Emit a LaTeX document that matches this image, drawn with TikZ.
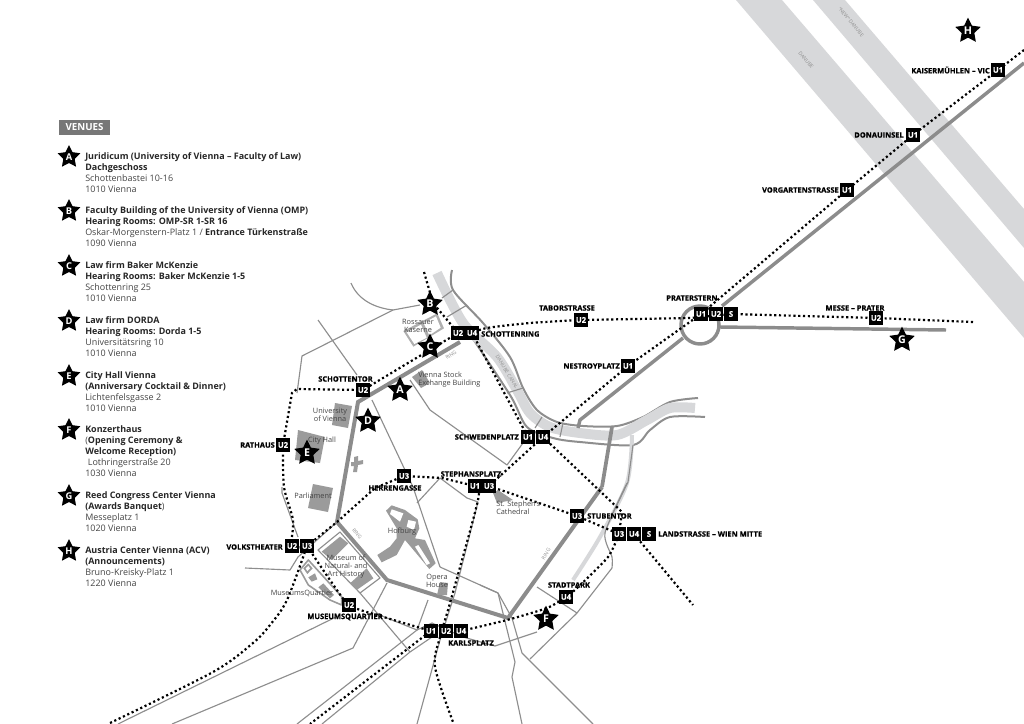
\documentclass[tikz,border=0pt]{standalone}
\usepackage{fontspec}
\setmainfont{Open Sans}
\newfontfamily\xbold{Open Sans}[BoldFeatures={FakeBold=0.6}]
\usetikzlibrary{shapes.geometric}
\pgfdeclarelayer{back}\pgfdeclarelayer{mid}
\pgfsetlayers{back,mid,main}
\definecolor{bandc}{HTML}{D7D8DA}
\definecolor{ringc}{HTML}{8C8C8C}
\definecolor{roadc}{HTML}{8E8E8E}
\definecolor{bldc}{HTML}{9B9B9B}
\definecolor{txtc}{HTML}{444444}
\definecolor{boxc}{HTML}{777777}
\tikzset{
 band/.style={fill=bandc,draw=none},
 ringroad/.style={draw=ringc,line width=3pt,line join=miter},
 road/.style={draw=roadc,line width=0.85pt,line join=round},
 canalb/.style={draw=roadc,line width=1.5pt},
 canalf/.style={draw=bandc,line width=7.5pt},
 bld/.style={fill=bldc,draw=none},
 court/.style={fill=white,draw=none},
 metro/.style={draw=black,line width=1.65pt,dash pattern=on 1.6pt off 2pt},
 ubox/.style={fill=black,text=white,minimum size=10pt,inner sep=0pt,font=\fontsize{5.8}{6}\selectfont\xbold\bfseries},
 lab/.style={text=black,inner sep=0pt,font=\fontsize{5.6}{6}\selectfont\xbold\bfseries},
 star5/.style={star,star points=5,star point ratio=2,fill=black,text=white,inner sep=0pt,minimum size=20pt,font=\fontsize{8}{9}\selectfont\bfseries},
 star5s/.style={star5,minimum size=18pt,font=\fontsize{7}{8}\selectfont\bfseries},
 place/.style={text=txtc,inner sep=0pt,align=center,font=\fontsize{5.5}{6.3}\selectfont},
 tiny/.style={text=roadc,inner sep=0pt,font=\fontsize{3.8}{4}\selectfont},
 venue/.style={anchor=north west,inner sep=0pt,align=left,text=txtc,font=\fontsize{6.72}{8.25}\selectfont},
}
\newcommand{\hd}[1]{{\bfseries\color{black!85}#1}}
\begin{document}
\begin{tikzpicture}[x=0.75pt,y=-0.75pt]
\useasboundingbox (0,0) rectangle (1024,724);
% ---- legend
\node[fill=boxc,text=white,inner sep=0pt,minimum width=38.5pt,minimum height=11.5pt,font=\fontsize{7.3}{8}\selectfont\bfseries] (venues) at (84.5,127.5) {VENUES};
\foreach \n/\l/\y in {la/A/157,lb/B/211,lc/C/266,ld/D/321,le/E/376,lf/F/430,lg/G/496,lh/H/551}
 \node[star5s] (\n) at (69,\y) {\l};
\node[venue] (v1) at (85,152) {\hd{Juridicum (University of Vienna – Faculty of Law)}\\\hd{Dachgeschoss}\\Schottenbastei 10-16\\1010 Vienna};
\node[venue] (v2) at (85,206) {\hd{Faculty Building of the University of Vienna (OMP)}\\\hd{Hearing Rooms: OMP-SR 1-SR 16}\\Oskar-Morgenstern-Platz 1 / \hd{Entrance Türkenstraße}\\1090 Vienna};
\node[venue] (v3) at (85,261) {\hd{Law firm Baker McKenzie}\\\hd{Hearing Rooms: Baker McKenzie 1-5}\\Schottenring 25\\1010 Vienna};
\node[venue] (v4) at (85,316) {\hd{Law firm DORDA}\\\hd{Hearing Rooms: Dorda 1-5}\\Universitätsring 10\\1010 Vienna};
\node[venue] (v5) at (85,371) {\hd{City Hall Vienna}\\\hd{(Anniversary Cocktail \& Dinner)}\\Lichtenfelsgasse 2\\1010 Vienna};
\node[venue] (v6) at (85,425) {\hd{Konzerthaus}\\(\hd{Opening Ceremony \&}\\\hd{Welcome Reception)}\\\hspace{2pt}Lothringerstraße 20\\1030 Vienna};
\node[venue] (v7) at (85,491) {\hd{Reed Congress Center Vienna}\\\hd{(Awards Banquet})\\Messeplatz 1\\1020 Vienna};
\node[venue] (v8) at (85,546) {\hd{Austria Center Vienna (ACV)}\\\hd{(Announcements)}\\Bruno-Kreisky-Platz 1\\1220 Vienna};
% ---- stars
\node[star5] (sa) at (400,390) {A};
\node[star5] (sb) at (430,304) {B};
\node[star5] (sc) at (430,347) {C};
\node[star5] (sd) at (368,421) {D};
\node[star5] (se) at (307,453) {E};
\node[star5] (sf) at (546,619) {F};
\node[star5] (sg) at (902,340) {G};
\node[star5] (sh) at (968,31) {H};
% ---- station boxes
\node[ubox] (ka) at (998,70) {U1};
\node[ubox] (do) at (913,135) {U1};
\node[ubox] (vo) at (847,190) {U1};
\node[ubox] (pa) at (701,314) {U1};
\node[ubox] (pb) at (716,314) {U2};
\node[ubox] (pc) at (731,314) {S};
\node[ubox] (me) at (876,318) {U2};
\node[ubox] (ta) at (581,320) {U2};
\node[ubox] (ne) at (628,366) {U1};
\node[ubox] (sra) at (458,333) {U2};
\node[ubox] (srb) at (472,333) {U4};
\node[ubox] (st) at (363,390) {U2};
\node[ubox] (ra) at (283,445) {U2};
\node[ubox] (swa) at (528,437) {U1};
\node[ubox] (swb) at (543,437) {U4};
\node[ubox] (spa) at (475,486) {U1};
\node[ubox] (spb) at (489,486) {U3};
\node[ubox] (he) at (404,476) {U3};
\node[ubox] (su) at (577,516) {U3};
\node[ubox] (laa) at (619,534) {U3};
\node[ubox] (lab) at (634,534) {U4};
\node[ubox] (lac) at (649,534) {S};
\node[ubox] (spk) at (566,597) {U4};
\node[ubox] (vta) at (292,546) {U2};
\node[ubox] (vtb) at (307,546) {U3};
\node[ubox] (mq) at (349,605) {U2};
\node[ubox] (kaa) at (431,631) {U1};
\node[ubox] (kab) at (446,631) {U2};
\node[ubox] (kac) at (461,631) {U4};
% ---- station labels
\node[lab,anchor=east] (lka) at (990,70) {KAISERMÜHLEN – VIC};
\node[lab,anchor=east] (ldo) at (904,135) {DONAUINSEL};
\node[lab,anchor=east] (lvo) at (839,190) {VORGARTENSTRASSE};
\node[lab,anchor=west] (lpr) at (666,298) {PRATERSTERN};
\node[lab] (lme) at (855,308) {MESSE – PRATER};
\node[lab] (lta) at (567,308) {TABORSTRASSE};
\node[lab,anchor=east] (lne) at (620,366) {NESTROYPLATZ};
\node[lab,anchor=west] (lsr) at (481,334) {SCHOTTENRING};
\node[lab] (lst) at (345.5,379) {SCHOTTENTOR};
\node[lab,anchor=east] (lra) at (275,445) {RATHAUS};
\node[lab,anchor=east] (lsw) at (519,437) {SCHWEDENPLATZ};
\node[lab] (lsp) at (471,474) {STEPHANSPLATZ};
\node[lab] (lhe) at (395,488) {HERRENGASSE};
\node[lab,anchor=west] (lsu) at (587,516) {STUBENTOR};
\node[lab,anchor=west] (lla) at (658,534) {LANDSTRASSE – WIEN MITTE};
\node[lab] (lsk) at (569,585) {STADTPARK};
\node[lab,anchor=east] (lvt) at (283,547) {VOLKSTHEATER};
\node[lab] (lmq) at (345,617) {MUSEUMSQUARTIER};
\node[lab] (lkp) at (471,643) {KARLSPLATZ};
% ---- place names
\node[place] (n1) at (418,326) {Rossauer\\Kaserne};
\node[place,align=left,anchor=west] (n2) at (418,379.5) {Vienna Stock\\Exchange Building};
\node[place] (n3) at (330,415) {University\\of Vienna};
\node[place] (n4) at (322,441) {City Hall};
\node[place] (n5) at (313,496) {Parliament};
\node[place] (n6) at (402,532) {Hofburg};
\node[place] (n7) at (346,566.5) {Museum of\\Natural- and\\Art History};
\node[place] (n8) at (302,593) {MuseumsQuartier};
\node[place] (n9) at (437,581) {Opera\\House};
\node[place,align=left,anchor=west] (n10) at (496,507.5) {St. Stephen's\\Cathedral};
\node[tiny,rotate=35] (r1) at (451,355) {RING};
\node[tiny,rotate=-52] (r2) at (357,534) {RING};
\node[tiny,rotate=58] (r3) at (546,554) {RING};
\node[tiny,rotate=-58] (c1) at (507,372) {DANUBE CANAL};
\node[tiny,rotate=-50] (d1) at (806,60) {DANUBE};
\node[tiny,rotate=-50] (d2) at (851,22) {"NEW" DANUBE};
% ---- metro lines
\coordinate (e1) at (1024,50);
\coordinate (e2) at (973,322);
\coordinate (e3) at (110,723);
\coordinate (e4) at (693,605);
\coordinate (e5) at (424,272);
\coordinate (e6) at (453,722);
\coordinate (e7) at (310,724);
\begin{pgfonlayer}{mid}
\draw[metro] (e1)--(ka.center)--(do.center)--(vo.center)--(pa.center)--(ne.center)--(swb.center)--(spb.center);
\draw[metro] plot[smooth,tension=0.5] coordinates {(spa.center) (478,500) (450,603) (440,637) (435,667) (e6)};
\draw[metro] (e2)--(me.center)--(pc.center)--(690,318)--(ta.center);
\draw[metro] plot[smooth,tension=0.5] coordinates {(ta.center) (530,323) (487,328) (srb.center)};
\draw[metro] (sra.center)--(st.center)--(297,389)--(292,393)--(283,445)--(ra.center);
\draw[metro] plot[smooth,tension=0.5] coordinates {(ra.center) (284,487) (293,520) (vta.center) (vtb.center)};
\draw[metro] (e5)--(433,303)--(sra.center);
\draw[metro] (srb.center)--(swa.center);
\draw[metro] (swb.center)--(622,512)--(laa.center);
\draw[metro] (lab.center)--(e4);
\draw[metro] plot[smooth,tension=0.4] coordinates {(vtb.center) (330,580) (mq.center) (377,615) (kaa.center)};
\draw[metro] plot[smooth,tension=0.4] coordinates {(kac.center) (507,620) (547,608) (spk.center) (577,588) (608,557) (laa.center)};
\draw[metro] plot[smooth,tension=0.4] coordinates {(kaa.center) (423,637) (e7)};
\draw[metro] plot[smooth,tension=0.5] coordinates {(e3) (213,672) (253,643) (270,625) (287,600) (vtb.center)};
\draw[metro] (vtb.center)--(337,522)--(375,488)--(he.center)--(442,478)--(spa.center);
\draw[metro] (spb.center)--(su.center)--(laa.center);
\end{pgfonlayer}
% ---- background map
\begin{pgfonlayer}{back}
\fill[band] (736,0)--(782,0)--(1024,282)--(1024,338)--cycle;
\fill[band] (813,0)--(845,0)--(1024,209)--(1024,248)--cycle;
% canal
\draw[canalb] plot[smooth,tension=0.5] coordinates {(452,270) (453,290) (483,323) (510,357) (523,388) (537,410) (557,422) (583,426) (617,426) (643,417) (670,402) (698,398)};
\draw[canalb] plot[smooth,tension=0.5] coordinates {(467,330) (510,395) (527,427) (553,438) (580,442) (633,445) (650,430) (670,417) (705,417)};
\draw[canalf] plot[smooth,tension=0.5] coordinates {(437,273) (463,323) (497,357) (517,390) (530,413) (550,427) (580,433) (617,435) (647,420) (670,408) (695,408)};
\draw[draw=bandc,line width=3pt] plot[smooth,tension=0.5] coordinates {(632,435) (627,483) (600,537) (573,580)};
% thin roads
\draw[road] (633,445)--(628,482)--(613,513);
\draw[road] plot[smooth,tension=0.4] coordinates {(627,483) (605,533) (612,557) (612,568)};
\draw[road] (612,568)--(577,613)--(530,659);
\draw[road] (537,587)--(577,613);
\draw[road] (480,585)--(498,593)--(515,662)--(512,677)--(522,724);
\draw[road] (512,618)--(522,653)--(593,724);
\draw[road] (440,567)--(498,593);
\draw[road] (413,487)--(440,567);
\draw[road] (417,503)--(440,478)--(467,498)--(478,502)--(455,593)--(440,640)--(417,724);
\draw[road] (463,637)--(495,646)--(537,632);
\draw[road] (410,380)--(430,410)--(507,465)--(523,443);
\draw[road] (318,320)--(357,375);
\draw[road] (372,400)--(413,487);
\draw[road] (351,283) .. controls (358,300) and (375,308) .. (393,310);
\draw[road] (393,310) -- (420,305);
\draw[road] (393,310)--(302,356)--(297,393);
\draw[road] (282,487)--(282,493)--(298,537);
\draw[road] (442,298)--(453,290);
\draw[road] (447,317)--(467,305);
\draw[road] (507,393)--(523,388);
\draw[road] (542,417)--(535,428);
\draw[road] (563,423)--(560,437);
\draw[road] (340,532)--(380,578)--(360,593)--(318,550)--cycle;
\draw[road] (337,522)--(298,557)--(290,570)--(245,568);
\draw[road] (360,593)--(410,652);
\draw[road] (340,615)--(118,724);
\draw[road] (387,583)--(353,648)--(172,724);
\draw[road] (428,600)--(417,630)--(297,724);
\draw[road] (322,724)--(410,652)--(432,637);
\draw[road] (417,630)--(432,623)--(463,637);
\draw[road] (377,614)--(417,630);
\draw[road] (498,593)--(512,618);
% ring and other thick lines
\draw[ringroad] (460,342)--(358,402)--(337,522)--(387,580)--(508,618)--(602,487);
\draw[ringroad,line width=2.8pt] (602,487)--(612,427);
\draw[ringroad,line width=2.6pt] (1024,63)--(722,306);
\draw[ringroad,line width=2.6pt] (683,338)--(580,420)--(578,428);
\draw[ringroad,line width=2.6pt] (720,327)--(946,330);
\draw[draw=ringc,line width=2.6pt] (700,325) circle (19);
% buildings
\fill[bld] (412,377)--(422,370)--(430,383)--(421,388)--cycle;
\fill[bld] (335,403)--(352,406)--(348,428)--(332,425)--cycle;
\fill[bld] (298,430)--(325,437)--(320,463)--(295,460)--cycle;
\fill[bld] (351,462)--(354,462)--(354,457)--(358,456)--(358,461)--(363,460)--(363,464)--(358,465)--(357,472)--(353,472)--(354,466)--(351,466)--cycle;
\fill[bld] (313,484)--(333,488)--(328,512)--(308,508)--cycle;
\fill[bld] (437,595)--(440,582)--(448,583)--(447,595)--cycle;
\fill[bld] (493,493)--(498,490)--(513,500)--(497,503)--cycle;
\begin{scope}[x=0.25pt,y=-0.25pt,xshift=217.5pt,yshift=-375pt]
 % Hofburg (crop coordinates)
 \fill[bld] (288,32)--(305,16)--(345,30)--(383,58)--(388,85)--(375,115)--(405,120)--(437,190)--(418,207)--(362,140)--(345,120)--(320,165)--(275,187)--(262,165)--(300,140)--(320,115)--(320,85)--cycle;
 \fill[court] (305,28)--(340,40)--(330,65)--(300,42)--cycle;
 \fill[court] (355,60)--(378,65)--(372,90)--(350,80)--cycle;
 \fill[court] (375,140)--(385,135)--(420,190)--(410,195)--cycle;
 % museums
 \fill[bld] (95,155)--(150,110)--(175,130)--(125,180)--cycle;
 \fill[bld] (180,250)--(230,205)--(250,235)--(200,270)--cycle;
 % MuseumsQuartier
 \draw[draw=bldc,line width=1.2pt,line join=round] (30,210)--(55,180)--(155,290)--(155,315)--(120,300)--(55,255)--cycle;
 \fill[bld] (55,232)--(75,220)--(82,238)--(65,245)--cycle;
 \fill[bld] (85,262)--(100,250)--(132,285)--(120,295)--cycle;
 \fill[bld] (40,205)--(55,190)--(68,205)--(52,222)--cycle;
 \fill[court] (47,205)--(55,198)--(60,205)--(52,213)--cycle;
\end{scope}
\begin{scope}[x=0.25pt,y=-0.25pt,xshift=172.5pt,yshift=-195pt]
 % Rossauer Kaserne (crop coordinates)
 \fill[bldc!80] (520,213)--(622,160)--(642,205)--(550,260)--cycle;
 \fill[court] (530,217)--(573,194)--(590,233)--(553,252)--cycle;
 \fill[court] (581,189)--(618,169)--(632,203)--(598,226)--cycle;
\end{scope}
\end{pgfonlayer}
\end{tikzpicture}
\end{document}
